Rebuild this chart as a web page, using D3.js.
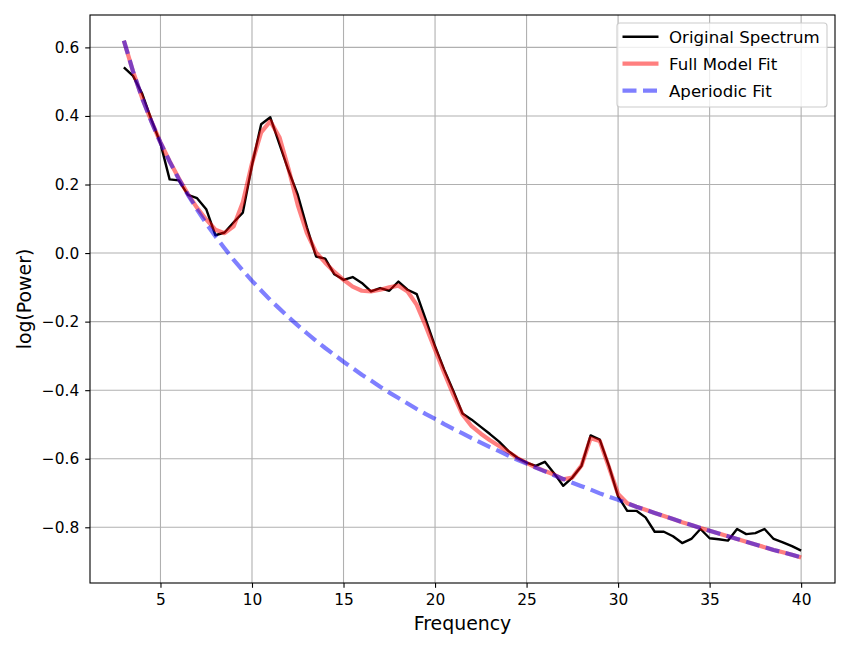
<!DOCTYPE html>
<html>
<head>
<meta charset="utf-8">
<script src="https://cdn.jsdelivr.net/npm/d3@7"></script>
<style>
  body { margin: 0; background: #fff; }
  svg text { font-family: "DejaVu Sans", sans-serif; fill: #000; }
</style>
</head>
<body>
<div id="chart"></div>
<script>
// frequencies (Hz)
var freqs = [3, 3.5, 4, 4.5, 5, 5.5, 6, 6.5, 7, 7.5, 8, 8.5, 9, 9.5, 10, 10.5, 11, 11.5, 12, 12.5,
    13, 13.5, 14, 14.5, 15, 15.5, 16, 16.5, 17, 17.5, 18, 18.5, 19, 19.5, 20, 20.5, 21, 21.5, 22, 22.5,
    23, 23.5, 24, 24.5, 25, 25.5, 26, 26.5, 27, 27.5, 28, 28.5, 29, 29.5, 30, 30.5, 31, 31.5, 32, 32.5,
    33, 33.5, 34, 34.5, 35, 35.5, 36, 36.5, 37, 37.5, 38, 38.5, 39, 39.5, 40];

var originalSpectrum = [0.542, 0.517, 0.465, 0.390, 0.320, 0.215, 0.212, 0.170, 0.160, 0.128,
    0.052, 0.060, 0.090, 0.118, 0.256, 0.376, 0.396, 0.318, 0.240, 0.170,
    0.075, -0.010, -0.016, -0.062, -0.078, -0.070, -0.087, -0.112, -0.102, -0.110,
    -0.083, -0.107, -0.120, -0.195, -0.272, -0.340, -0.402, -0.468, -0.486, -0.507,
    -0.528, -0.550, -0.577, -0.597, -0.611, -0.621, -0.609, -0.642, -0.679, -0.655,
    -0.621, -0.532, -0.544, -0.621, -0.710, -0.752, -0.752, -0.771, -0.813, -0.813,
    -0.826, -0.846, -0.834, -0.805, -0.832, -0.835, -0.839, -0.805, -0.820, -0.817,
    -0.805, -0.834, -0.844, -0.855, -0.868];

var fullModelFit = [0.620, 0.530, 0.452, 0.385, 0.323, 0.268, 0.218, 0.172, 0.132, 0.098,
    0.068, 0.058, 0.078, 0.148, 0.262, 0.352, 0.385, 0.338, 0.245, 0.140,
    0.058, 0.002, -0.028, -0.055, -0.078, -0.098, -0.110, -0.112, -0.107, -0.100,
    -0.095, -0.112, -0.151, -0.214, -0.282, -0.349, -0.413, -0.471, -0.505, -0.527,
    -0.546, -0.563, -0.580, -0.598, -0.612, -0.625, -0.636, -0.646, -0.660, -0.655,
    -0.620, -0.540, -0.548, -0.625, -0.703, -0.730, -0.740, -0.749, -0.758, -0.767,
    -0.776, -0.785, -0.793, -0.802, -0.810, -0.818, -0.826, -0.834, -0.842, -0.850,
    -0.858, -0.866, -0.873, -0.880, -0.888];

var aperiodicFit = [0.620, 0.530, 0.452, 0.384, 0.322, 0.267, 0.216, 0.170, 0.127, 0.086,
    0.049, 0.014, -0.020, -0.051, -0.081, -0.109, -0.137, -0.162, -0.187, -0.211,
    -0.234, -0.256, -0.277, -0.297, -0.317, -0.336, -0.355, -0.372, -0.390, -0.407,
    -0.423, -0.439, -0.455, -0.470, -0.484, -0.499, -0.513, -0.526, -0.540, -0.553,
    -0.566, -0.578, -0.591, -0.603, -0.614, -0.626, -0.637, -0.648, -0.659, -0.670,
    -0.680, -0.690, -0.701, -0.711, -0.720, -0.730, -0.740, -0.749, -0.758, -0.767,
    -0.776, -0.785, -0.793, -0.802, -0.810, -0.818, -0.826, -0.834, -0.842, -0.850,
    -0.858, -0.866, -0.873, -0.880, -0.888];

var xTicks = [5, 10, 15, 20, 25, 30, 35, 40];
var yTicks = [-0.8, -0.6, -0.4, -0.2, 0.0, 0.2, 0.4, 0.6];
var seriesNames = ["Original Spectrum", "Full Model Fit", "Aperiodic Fit"];

var width = 850, height = 650;
var margin = {left: 90, right: 15, top: 15, bottom: 67};

var svg = d3.select("#chart").append("svg")
    .attr("width", width)
    .attr("height", height)
    .style("background", "white");

var x = d3.scaleLinear().domain([1.15, 41.85]).range([margin.left, width - margin.right]);
var y = d3.scaleLinear().domain([-0.9625, 0.6945]).range([height - margin.bottom, margin.top]);

var fmtY = function (d) { return d3.format(".1f")(d).replace("-", "\u2212"); };

// grid
var grid = svg.append("g").attr("class", "grid");
grid.selectAll(".gx").data(xTicks).enter().append("line")
    .attr("x1", function (d) { return x(d); }).attr("x2", function (d) { return x(d); })
    .attr("y1", y.range()[0]).attr("y2", y.range()[1])
    .attr("stroke", "#b0b0b0").attr("stroke-width", 1.1);
grid.selectAll(".gy").data(yTicks).enter().append("line")
    .attr("y1", function (d) { return y(d); }).attr("y2", function (d) { return y(d); })
    .attr("x1", x.range()[0]).attr("x2", x.range()[1])
    .attr("stroke", "#b0b0b0").attr("stroke-width", 1.1);

// series
var series = [
    {vals: originalSpectrum, color: "#000", width: 2.4, opacity: 1, dash: null},
    {vals: fullModelFit, color: "#ff0000", width: 4.2, opacity: 0.5, dash: null},
    {vals: aperiodicFit, color: "#0000ff", width: 4.2, opacity: 0.5, dash: "14,6.5"}
];

var line = d3.line()
    .x(function (d) { return x(d[0]); })
    .y(function (d) { return y(d[1]); });

series.forEach(function (s) {
    svg.append("path")
        .datum(d3.zip(freqs, s.vals))
        .attr("d", line)
        .attr("fill", "none")
        .attr("stroke", s.color)
        .attr("stroke-opacity", s.opacity)
        .attr("stroke-width", s.width)
        .attr("stroke-dasharray", s.dash)
        .attr("stroke-linejoin", "round");
});

// axes
var xAxis = d3.axisBottom(x).tickValues(xTicks).tickSizeOuter(0).tickSizeInner(4.8).tickPadding(6);
var yAxis = d3.axisLeft(y).tickValues(yTicks).tickFormat(fmtY).tickSizeOuter(0).tickSizeInner(4.8).tickPadding(6);

var gx = svg.append("g").attr("transform", "translate(0," + y.range()[0] + ")").call(xAxis);
var gy = svg.append("g").attr("transform", "translate(" + x.range()[0] + ",0)").call(yAxis);
[gx, gy].forEach(function (g) {
    g.select(".domain").remove();
    g.selectAll(".tick line").attr("stroke", "#000").attr("stroke-width", 1.1);
    g.selectAll(".tick text").attr("font-size", "15.4px").attr("fill", "#000")
        .style("font-family", "'DejaVu Sans', sans-serif");
});

// frame
svg.append("rect")
    .attr("x", x.range()[0]).attr("y", y.range()[1])
    .attr("width", x.range()[1] - x.range()[0])
    .attr("height", y.range()[0] - y.range()[1])
    .attr("fill", "none").attr("stroke", "#000").attr("stroke-width", 1.1);

// axis labels
svg.append("text")
    .attr("x", (x.range()[0] + x.range()[1]) / 2)
    .attr("y", 630)
    .attr("text-anchor", "middle")
    .attr("font-size", "18.9px")
    .text("Frequency");

svg.append("text")
    .attr("transform", "translate(31," + ((y.range()[0] + y.range()[1]) / 2) + ") rotate(-90)")
    .attr("text-anchor", "middle")
    .attr("font-size", "18.9px")
    .text("log(Power)");

// legend
var legend = svg.append("g").attr("transform", "translate(617,23)");
legend.append("rect")
    .attr("width", 210).attr("height", 84).attr("rx", 3)
    .attr("fill", "white").attr("fill-opacity", 0.8)
    .attr("stroke", "#cccccc").attr("stroke-width", 1.1);

var rows = legend.selectAll(".row").data(series).enter().append("g")
    .attr("transform", function (d, i) { return "translate(0," + (13.7 + i * 27) + ")"; });
rows.append("line")
    .attr("x1", 5.5).attr("x2", 41.5)
    .attr("stroke", function (d) { return d.color; })
    .attr("stroke-opacity", function (d) { return d.opacity; })
    .attr("stroke-width", function (d) { return d.width; })
    .attr("stroke-dasharray", function (d) { return d.dash; });
rows.append("text")
    .attr("x", 52)
    .attr("dy", "0.36em")
    .attr("font-size", "16.6px")
    .text(function (d, i) { return seriesNames[i]; });
</script>
</body>
</html>
